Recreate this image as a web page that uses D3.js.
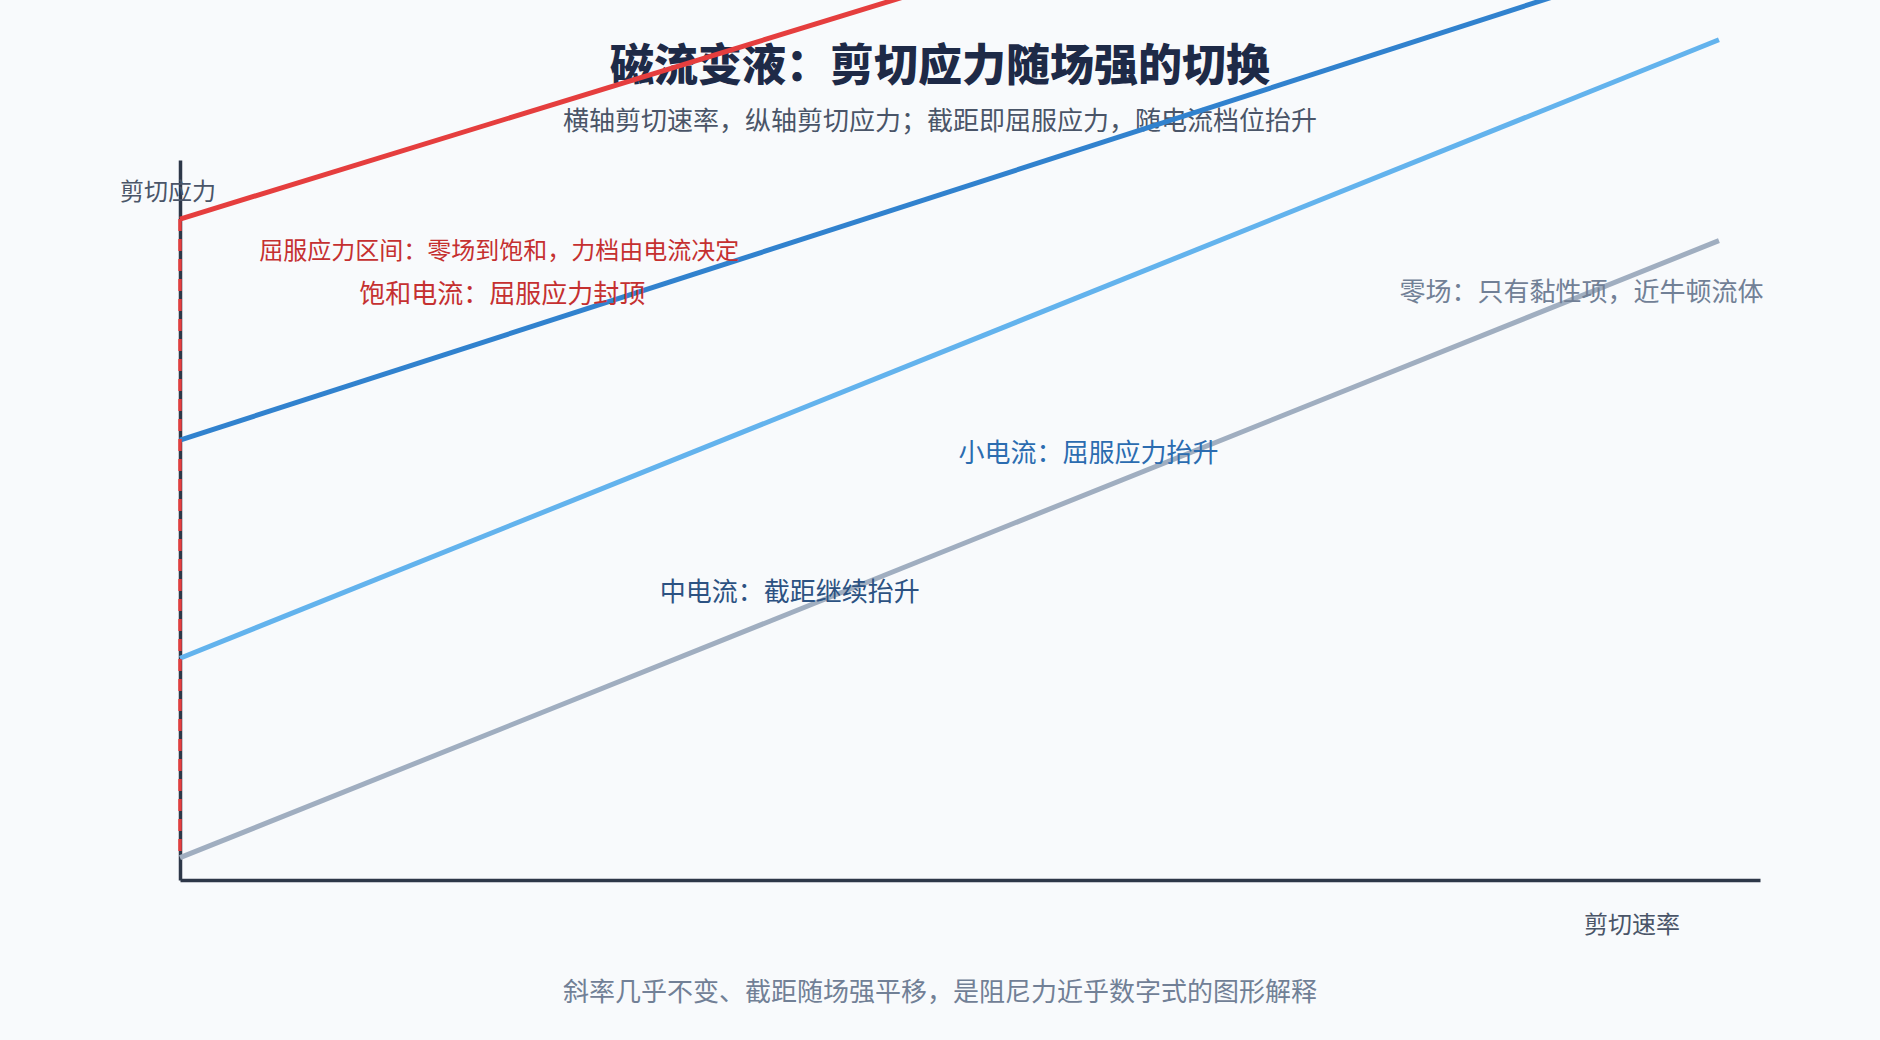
<!DOCTYPE html>
<html>
<head>
<meta charset="utf-8">
<script src="https://cdn.jsdelivr.net/npm/d3@7"></script>
<style>
  html, body { margin: 0; padding: 0; background: #f8fafc; }
  svg { display: block; font-family: "Noto Sans CJK SC", "Noto Sans", sans-serif; }
</style>
</head>
<body>
<svg id="chart" width="1880" height="1040"></svg>
<script>
// ---------- data ----------
const shearRate = [0, 97.4];                 // normalized shear rate (x)
const seriesNames = ["零场", "小电流", "中电流", "饱和电流"];
const stressZero = [3.1, 88.8];              // shear stress at start / end
const stressLow  = [30.8, 116.7];
const stressMid  = [61.1, 130.1];
const stressSat  = [91.8, 157.4];
const xDomain = [0, 100];
const yDomain = [0, 100];

const titleText = "磁流变液：剪切应力随场强的切换";
const subtitleText = "横轴剪切速率，纵轴剪切应力；截距即屈服应力，随电流档位抬升";
const footerText = "斜率几乎不变、截距随场强平移，是阻尼力近乎数字式的图形解释";
const xLabel = "剪切速率";
const yLabel = "剪切应力";
const bracketText = "屈服应力区间：零场到饱和，力档由电流决定";
const seriesLabels = ["零场：只有黏性项，近牛顿流体", "小电流：屈服应力抬升", "中电流：截距继续抬升", "饱和电流：屈服应力封顶"];

// ---------- layout / style ----------
const W = 1880, H = 1040;
const plot = { left: 180, right: 1760, top: 160, bottom: 880 };
const lineColors = ["#a0aec0", "#63b3ed", "#3182ce", "#e53e3e"];
const labelColors = ["#718096", "#2b6cb0", "#2c5282", "#c53030"];
// label anchor positions in data units (layout, not data)
const labelPos = [[88.7, 80.4], [57.5, 58.1], [38.6, 38.8], [20.4, 80.2]];
const bracketPos = [20.2, 86.3];

const svg = d3.select("#chart");
svg.append("rect").attr("width", W).attr("height", H).attr("fill", "#f8fafc");

const x = d3.scaleLinear().domain(xDomain).range([plot.left, plot.right]);
const y = d3.scaleLinear().domain(yDomain).range([plot.bottom, plot.top]);

// titles
svg.append("text").attr("x", W / 2).attr("y", 81).attr("text-anchor", "middle")
  .attr("font-size", 44).attr("font-weight", 900).attr("fill", "#1e2a47").text(titleText);
svg.append("text").attr("x", W / 2).attr("y", 130).attr("text-anchor", "middle")
  .attr("font-size", 26).attr("fill", "#4a5568").text(subtitleText);

// axes
const xAxis = svg.append("g").attr("transform", `translate(0,${y(0)})`)
  .call(d3.axisBottom(x).ticks(0).tickSize(0).tickSizeOuter(0));
const yAxis = svg.append("g").attr("transform", `translate(${x(0)},0)`)
  .call(d3.axisLeft(y).ticks(0).tickSize(0).tickSizeOuter(0));
[xAxis, yAxis].forEach(g => {
  g.selectAll("text").remove();
  g.select(".domain").attr("stroke", "#2d3748").attr("stroke-width", 3.5);
});

// series lines
const series = [stressZero, stressLow, stressMid, stressSat];
const lineGen = d3.line().x(d => x(d[0])).y(d => y(d[1]));
svg.append("g").selectAll("path")
  .data(series)
  .join("path")
  .attr("d", s => lineGen(shearRate.map((r, i) => [r, s[i]])))
  .attr("fill", "none")
  .attr("stroke", (d, i) => lineColors[i])
  .attr("stroke-width", 5);

// yield-stress range dashed overlay on y axis (saturation down to zero field)
svg.append("line")
  .attr("x1", x(0)).attr("x2", x(0))
  .attr("y1", y(stressSat[0])).attr("y2", y(stressZero[0]))
  .attr("stroke", "#e53e3e").attr("stroke-width", 3.5)
  .attr("stroke-dasharray", "12 8");

// axis labels
svg.append("text").attr("x", x(0) - 12).attr("y", 200).attr("text-anchor", "middle")
  .attr("font-size", 24).attr("fill", "#4a5568").text(yLabel);
svg.append("text").attr("x", 1632).attr("y", 933).attr("text-anchor", "middle")
  .attr("font-size", 24).attr("fill", "#4a5568").text(xLabel);

// annotations
svg.append("text").attr("x", x(bracketPos[0])).attr("y", y(bracketPos[1]))
  .attr("text-anchor", "middle").attr("font-size", 24).attr("fill", "#c53030").text(bracketText);
svg.append("g").selectAll("text")
  .data(seriesLabels)
  .join("text")
  .attr("x", (d, i) => x(labelPos[i][0]))
  .attr("y", (d, i) => y(labelPos[i][1]))
  .attr("text-anchor", "middle")
  .attr("font-size", 26)
  .attr("fill", (d, i) => labelColors[i])
  .text(d => d);

// footer
svg.append("text").attr("x", W / 2).attr("y", 1001).attr("text-anchor", "middle")
  .attr("font-size", 26).attr("fill", "#718096").text(footerText);
</script>
</body>
</html>
